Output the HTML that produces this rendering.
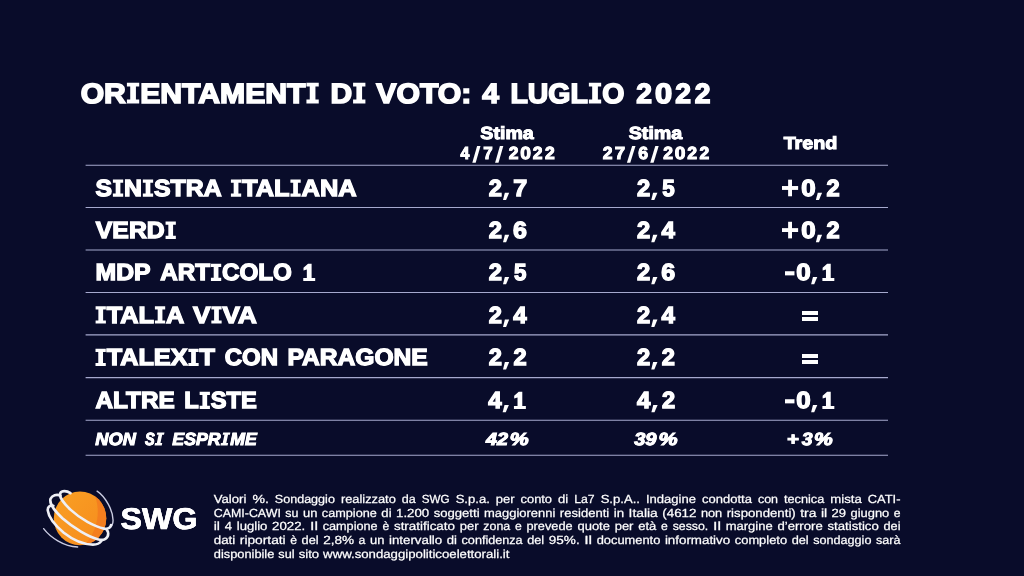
<!DOCTYPE html>
<html lang="it"><head><meta charset="utf-8"><title>Orientamenti di voto</title>
<style>
html,body{margin:0;padding:0;}
body{width:1024px;height:576px;overflow:hidden;background:#090c2a;position:relative;font-family:"Liberation Sans",sans-serif;color:#fff;text-rendering:geometricPrecision;}
.t{position:absolute;left:0;top:0;white-space:pre;transform-origin:0 0;font-weight:700;line-height:1;}
.i{font-style:italic;}
.g{margin:0;padding:0;font-size:1px;line-height:1px;font-weight:400;}
.h{font-size:0;}
.ln{position:absolute;left:85.5px;width:802.5px;height:1.5px;background:#a6a9ce;}
.f{position:absolute;left:0;top:0;white-space:pre;transform-origin:0 0;font-weight:400;line-height:1;font-size:11.8px;color:#fff;-webkit-text-stroke:0.25px #fff;}
</style></head><body>
<svg style="position:absolute;left:0;top:0" width="1024" height="576" viewBox="0 0 1024 576"><g stroke="#a6a9ce" stroke-width="1.1">
<line x1="85.6" x2="888" y1="165.30" y2="165.30"/>
<line x1="85.6" x2="888" y1="207.50" y2="207.50"/>
<line x1="85.6" x2="888" y1="250.00" y2="250.00"/>
<line x1="85.6" x2="888" y1="292.50" y2="292.50"/>
<line x1="85.6" x2="888" y1="334.90" y2="334.90"/>
<line x1="85.6" x2="888" y1="377.60" y2="377.60"/>
<line x1="85.6" x2="888" y1="420.20" y2="420.20"/>
<line x1="85.6" x2="888" y1="455.30" y2="455.30"/>
</g><g fill="#fff">
<polygon points="472.30,162.70 475.70,162.70 480.50,146.00 477.10,146.00"/>
<polygon points="495.10,162.70 498.50,162.70 503.30,146.00 499.90,146.00"/>
<polygon points="626.90,162.70 630.30,162.70 635.50,146.00 632.10,146.00"/>
<polygon points="650.20,162.70 653.60,162.70 658.70,146.00 655.30,146.00"/>
</g></svg>
<div id="txt" style="position:absolute;left:0;top:0;width:1024px;height:576px;will-change:transform">
<h1 class="g"><span class="t" style="font-size:27.83px;-webkit-text-stroke:1.55px #fff;text-shadow:0.17px 0 #fff,-0.17px 0 #fff;transform:translate(80.68px,79.99px) scaleX(1.0826)">OR</span><b class="h">I</b><span class="t" style="font-size:27.83px;-webkit-text-stroke:1.55px #fff;text-shadow:0.17px 0 #fff,-0.17px 0 #fff;transform:translate(140.26px,79.99px) scaleX(1.0826)">ENTAMENT</span><b class="h">I</b> <span class="t" style="font-size:27.83px;-webkit-text-stroke:1.55px #fff;text-shadow:0.17px 0 #fff,-0.17px 0 #fff;transform:translate(330.39px,79.99px) scaleX(1.0774)">D</span><b class="h">I</b> <span class="t" style="font-size:27.83px;-webkit-text-stroke:1.55px #fff;text-shadow:0.17px 0 #fff,-0.17px 0 #fff;transform:translate(376.23px,79.99px) scaleX(1.0860)">VOTO:</span> <span class="t" style="font-size:27.83px;-webkit-text-stroke:1.55px #fff;text-shadow:0.17px 0 #fff,-0.17px 0 #fff;transform:translate(482.32px,79.99px) scaleX(1.0773)">4</span> <span class="t" style="font-size:27.83px;-webkit-text-stroke:1.55px #fff;text-shadow:0.17px 0 #fff,-0.17px 0 #fff;transform:translate(510.49px,79.99px) scaleX(1.0211)">LUGL</span><b class="h">I</b><span class="t" style="font-size:27.83px;-webkit-text-stroke:1.55px #fff;text-shadow:0.17px 0 #fff,-0.17px 0 #fff;transform:translate(602.22px,79.99px) scaleX(1.0211)">O</span> <span class="t" style="font-size:27.83px;-webkit-text-stroke:1.55px #fff;text-shadow:0.17px 0 #fff,-0.17px 0 #fff;transform:translate(636.33px,79.99px) scaleX(1.0133)">2</span><span class="t" style="font-size:27.83px;-webkit-text-stroke:1.55px #fff;text-shadow:0.17px 0 #fff,-0.17px 0 #fff;transform:translate(655.12px,79.99px) scaleX(1.1072)">0</span><span class="t" style="font-size:27.83px;-webkit-text-stroke:1.55px #fff;text-shadow:0.17px 0 #fff,-0.17px 0 #fff;transform:translate(675.29px,79.99px) scaleX(1.0133)">2</span><span class="t" style="font-size:27.83px;-webkit-text-stroke:1.55px #fff;text-shadow:0.17px 0 #fff,-0.17px 0 #fff;transform:translate(694.77px,79.99px) scaleX(1.0133)">2</span></h1>
<div class="g"><span class="t" style="font-size:17.49px;-webkit-text-stroke:0.97px #fff;text-shadow:0.1px 0 #fff,-0.1px 0 #fff;transform:translate(480.35px,125.04px) scaleX(1.1206)">Stima</span> <span class="t" style="font-size:17.49px;-webkit-text-stroke:0.97px #fff;text-shadow:0.1px 0 #fff,-0.1px 0 #fff;transform:translate(460.53px,145.04px) scaleX(0.9084)">4</span><b class="h">/</b><span class="t" style="font-size:17.49px;-webkit-text-stroke:0.97px #fff;text-shadow:0.1px 0 #fff,-0.1px 0 #fff;transform:translate(483.24px,145.04px) scaleX(0.9749)">7</span><b class="h">/</b><span class="t" style="font-size:17.49px;-webkit-text-stroke:0.97px #fff;text-shadow:0.1px 0 #fff,-0.1px 0 #fff;transform:translate(508.64px,145.04px) scaleX(1.0021)">2</span><span class="t" style="font-size:17.49px;-webkit-text-stroke:0.97px #fff;text-shadow:0.1px 0 #fff,-0.1px 0 #fff;transform:translate(520.30px,145.04px) scaleX(1.0951)">0</span><span class="t" style="font-size:17.49px;-webkit-text-stroke:0.97px #fff;text-shadow:0.1px 0 #fff,-0.1px 0 #fff;transform:translate(532.81px,145.04px) scaleX(1.0021)">2</span><span class="t" style="font-size:17.49px;-webkit-text-stroke:0.97px #fff;text-shadow:0.1px 0 #fff,-0.1px 0 #fff;transform:translate(544.90px,145.04px) scaleX(1.0021)">2</span></div>
<div class="g"><span class="t" style="font-size:17.49px;-webkit-text-stroke:0.97px #fff;text-shadow:0.1px 0 #fff,-0.1px 0 #fff;transform:translate(628.75px,125.04px) scaleX(1.1226)">Stima</span> <span class="t" style="font-size:17.49px;-webkit-text-stroke:0.97px #fff;text-shadow:0.1px 0 #fff,-0.1px 0 #fff;transform:translate(602.84px,145.04px) scaleX(1.0021)">2</span><span class="t" style="font-size:17.49px;-webkit-text-stroke:0.97px #fff;text-shadow:0.1px 0 #fff,-0.1px 0 #fff;transform:translate(614.71px,145.04px) scaleX(1.0641)">7</span><b class="h">/</b><span class="t" style="font-size:17.49px;-webkit-text-stroke:0.97px #fff;text-shadow:0.1px 0 #fff,-0.1px 0 #fff;transform:translate(638.24px,145.04px) scaleX(1.0086)">6</span><b class="h">/</b><span class="t" style="font-size:17.49px;-webkit-text-stroke:0.97px #fff;text-shadow:0.1px 0 #fff,-0.1px 0 #fff;transform:translate(663.14px,145.04px) scaleX(1.0021)">2</span><span class="t" style="font-size:17.49px;-webkit-text-stroke:0.97px #fff;text-shadow:0.1px 0 #fff,-0.1px 0 #fff;transform:translate(674.80px,145.04px) scaleX(1.0951)">0</span><span class="t" style="font-size:17.49px;-webkit-text-stroke:0.97px #fff;text-shadow:0.1px 0 #fff,-0.1px 0 #fff;transform:translate(687.31px,145.04px) scaleX(1.0021)">2</span><span class="t" style="font-size:17.49px;-webkit-text-stroke:0.97px #fff;text-shadow:0.1px 0 #fff,-0.1px 0 #fff;transform:translate(699.40px,145.04px) scaleX(1.0021)">2</span></div>
<div class="g"><span class="t" style="font-size:17.49px;-webkit-text-stroke:0.97px #fff;text-shadow:0.1px 0 #fff,-0.1px 0 #fff;transform:translate(783.66px,135.04px) scaleX(1.1275)">Trend</span></div>
<div class="g"><span class="t" style="font-size:23.26px;-webkit-text-stroke:1.3px #fff;text-shadow:0.14px 0 #fff,-0.14px 0 #fff;transform:translate(95.46px,176.96px) scaleX(1.0679)">S</span><b class="h">I</b><span class="t" style="font-size:23.26px;-webkit-text-stroke:1.3px #fff;text-shadow:0.14px 0 #fff,-0.14px 0 #fff;transform:translate(124.05px,176.96px) scaleX(1.0679)">N</span><b class="h">I</b><span class="t" style="font-size:23.26px;-webkit-text-stroke:1.3px #fff;text-shadow:0.14px 0 #fff,-0.14px 0 #fff;transform:translate(154.01px,176.96px) scaleX(1.0679)">STRA</span> <b class="h">I</b><span class="t" style="font-size:23.26px;-webkit-text-stroke:1.3px #fff;text-shadow:0.14px 0 #fff,-0.14px 0 #fff;transform:translate(242.06px,176.96px) scaleX(1.0922)">TAL</span><b class="h">I</b><span class="t" style="font-size:23.26px;-webkit-text-stroke:1.3px #fff;text-shadow:0.14px 0 #fff,-0.14px 0 #fff;transform:translate(301.58px,176.96px) scaleX(1.0922)">ANA</span> <span class="t" style="font-size:23.26px;-webkit-text-stroke:1.3px #fff;text-shadow:0.14px 0 #fff,-0.14px 0 #fff;transform:translate(488.81px,176.96px) scaleX(1.0176)">2</span><b class="h">,</b><span class="t" style="font-size:23.26px;-webkit-text-stroke:1.3px #fff;text-shadow:0.14px 0 #fff,-0.14px 0 #fff;transform:translate(513.19px,176.96px) scaleX(1.0805)">7</span> <span class="t" style="font-size:23.26px;-webkit-text-stroke:1.3px #fff;text-shadow:0.14px 0 #fff,-0.14px 0 #fff;transform:translate(637.06px,176.96px) scaleX(1.0176)">2</span><b class="h">,</b><span class="t" style="font-size:23.26px;-webkit-text-stroke:1.3px #fff;text-shadow:0.14px 0 #fff,-0.14px 0 #fff;transform:translate(662.31px,176.96px) scaleX(0.9598)">5</span> <b class="h">+</b><span class="t" style="font-size:23.26px;-webkit-text-stroke:1.3px #fff;text-shadow:0.14px 0 #fff,-0.14px 0 #fff;transform:translate(801.14px,176.96px) scaleX(1.1120)">0</span><b class="h">,</b><span class="t" style="font-size:23.26px;-webkit-text-stroke:1.3px #fff;text-shadow:0.14px 0 #fff,-0.14px 0 #fff;transform:translate(826.38px,176.96px) scaleX(1.0176)">2</span></div>
<div class="g"><span class="t" style="font-size:23.26px;-webkit-text-stroke:1.3px #fff;text-shadow:0.14px 0 #fff,-0.14px 0 #fff;transform:translate(95.84px,218.96px) scaleX(1.0654)">VERD</span><b class="h">I</b> <span class="t" style="font-size:23.26px;-webkit-text-stroke:1.3px #fff;text-shadow:0.14px 0 #fff,-0.14px 0 #fff;transform:translate(488.81px,218.96px) scaleX(1.0176)">2</span><b class="h">,</b><span class="t" style="font-size:23.26px;-webkit-text-stroke:1.3px #fff;text-shadow:0.14px 0 #fff,-0.14px 0 #fff;transform:translate(513.04px,218.96px) scaleX(1.0720)">6</span> <span class="t" style="font-size:23.26px;-webkit-text-stroke:1.3px #fff;text-shadow:0.14px 0 #fff,-0.14px 0 #fff;transform:translate(637.06px,218.96px) scaleX(1.0176)">2</span><b class="h">,</b><span class="t" style="font-size:23.26px;-webkit-text-stroke:1.3px #fff;text-shadow:0.14px 0 #fff,-0.14px 0 #fff;transform:translate(661.56px,218.96px) scaleX(1.0332)">4</span> <b class="h">+</b><span class="t" style="font-size:23.26px;-webkit-text-stroke:1.3px #fff;text-shadow:0.14px 0 #fff,-0.14px 0 #fff;transform:translate(801.14px,218.96px) scaleX(1.1120)">0</span><b class="h">,</b><span class="t" style="font-size:23.26px;-webkit-text-stroke:1.3px #fff;text-shadow:0.14px 0 #fff,-0.14px 0 #fff;transform:translate(826.38px,218.96px) scaleX(1.0176)">2</span></div>
<div class="g"><span class="t" style="font-size:23.26px;-webkit-text-stroke:1.3px #fff;text-shadow:0.14px 0 #fff,-0.14px 0 #fff;transform:translate(95.54px,260.96px) scaleX(1.0644)">MDP</span> <span class="t" style="font-size:23.26px;-webkit-text-stroke:1.3px #fff;text-shadow:0.14px 0 #fff,-0.14px 0 #fff;transform:translate(160.34px,260.96px) scaleX(1.0399)">ART</span><b class="h">I</b><span class="t" style="font-size:23.26px;-webkit-text-stroke:1.3px #fff;text-shadow:0.14px 0 #fff,-0.14px 0 #fff;transform:translate(222.08px,260.96px) scaleX(1.0399)">COLO</span> <b class="h">1</b> <span class="t" style="font-size:23.26px;-webkit-text-stroke:1.3px #fff;text-shadow:0.14px 0 #fff,-0.14px 0 #fff;transform:translate(488.81px,260.96px) scaleX(1.0176)">2</span><b class="h">,</b><span class="t" style="font-size:23.26px;-webkit-text-stroke:1.3px #fff;text-shadow:0.14px 0 #fff,-0.14px 0 #fff;transform:translate(514.06px,260.96px) scaleX(0.9598)">5</span> <span class="t" style="font-size:23.26px;-webkit-text-stroke:1.3px #fff;text-shadow:0.14px 0 #fff,-0.14px 0 #fff;transform:translate(637.06px,260.96px) scaleX(1.0176)">2</span><b class="h">,</b><span class="t" style="font-size:23.26px;-webkit-text-stroke:1.3px #fff;text-shadow:0.14px 0 #fff,-0.14px 0 #fff;transform:translate(661.29px,260.96px) scaleX(1.0720)">6</span> <b class="h">-</b><span class="t" style="font-size:23.26px;-webkit-text-stroke:1.3px #fff;text-shadow:0.14px 0 #fff,-0.14px 0 #fff;transform:translate(796.36px,260.96px) scaleX(1.1120)">0</span><b class="h">,</b><b class="h">1</b></div>
<div class="g"><b class="h">I</b><span class="t" style="font-size:23.26px;-webkit-text-stroke:1.3px #fff;text-shadow:0.14px 0 #fff,-0.14px 0 #fff;transform:translate(106.76px,303.96px) scaleX(1.0872)">TAL</span><b class="h">I</b><span class="t" style="font-size:23.26px;-webkit-text-stroke:1.3px #fff;text-shadow:0.14px 0 #fff,-0.14px 0 #fff;transform:translate(166.06px,303.96px) scaleX(1.0872)">A</span> <span class="t" style="font-size:23.26px;-webkit-text-stroke:1.3px #fff;text-shadow:0.14px 0 #fff,-0.14px 0 #fff;transform:translate(193.09px,303.96px) scaleX(1.1215)">V</span><b class="h">I</b><span class="t" style="font-size:23.26px;-webkit-text-stroke:1.3px #fff;text-shadow:0.14px 0 #fff,-0.14px 0 #fff;transform:translate(222.51px,303.96px) scaleX(1.1215)">VA</span> <span class="t" style="font-size:23.26px;-webkit-text-stroke:1.3px #fff;text-shadow:0.14px 0 #fff,-0.14px 0 #fff;transform:translate(488.81px,303.96px) scaleX(1.0176)">2</span><b class="h">,</b><span class="t" style="font-size:23.26px;-webkit-text-stroke:1.3px #fff;text-shadow:0.14px 0 #fff,-0.14px 0 #fff;transform:translate(513.31px,303.96px) scaleX(1.0332)">4</span> <span class="t" style="font-size:23.26px;-webkit-text-stroke:1.3px #fff;text-shadow:0.14px 0 #fff,-0.14px 0 #fff;transform:translate(637.06px,303.96px) scaleX(1.0176)">2</span><b class="h">,</b><span class="t" style="font-size:23.26px;-webkit-text-stroke:1.3px #fff;text-shadow:0.14px 0 #fff,-0.14px 0 #fff;transform:translate(661.56px,303.96px) scaleX(1.0332)">4</span> <b class="h">=</b></div>
<div class="g"><b class="h">I</b><span class="t" style="font-size:23.26px;-webkit-text-stroke:1.3px #fff;text-shadow:0.14px 0 #fff,-0.14px 0 #fff;transform:translate(106.66px,345.96px) scaleX(1.0848)">TALEX</span><b class="h">I</b><span class="t" style="font-size:23.26px;-webkit-text-stroke:1.3px #fff;text-shadow:0.14px 0 #fff,-0.14px 0 #fff;transform:translate(199.52px,345.96px) scaleX(1.0848)">T</span> <span class="t" style="font-size:23.26px;-webkit-text-stroke:1.3px #fff;text-shadow:0.14px 0 #fff,-0.14px 0 #fff;transform:translate(224.67px,345.96px) scaleX(1.0312)">CON</span> <span class="t" style="font-size:23.26px;-webkit-text-stroke:1.3px #fff;text-shadow:0.14px 0 #fff,-0.14px 0 #fff;transform:translate(287.55px,345.96px) scaleX(1.0572)">PARAGONE</span> <span class="t" style="font-size:23.26px;-webkit-text-stroke:1.3px #fff;text-shadow:0.14px 0 #fff,-0.14px 0 #fff;transform:translate(488.81px,345.96px) scaleX(1.0176)">2</span><b class="h">,</b><span class="t" style="font-size:23.26px;-webkit-text-stroke:1.3px #fff;text-shadow:0.14px 0 #fff,-0.14px 0 #fff;transform:translate(513.48px,345.96px) scaleX(1.0176)">2</span> <span class="t" style="font-size:23.26px;-webkit-text-stroke:1.3px #fff;text-shadow:0.14px 0 #fff,-0.14px 0 #fff;transform:translate(637.06px,345.96px) scaleX(1.0176)">2</span><b class="h">,</b><span class="t" style="font-size:23.26px;-webkit-text-stroke:1.3px #fff;text-shadow:0.14px 0 #fff,-0.14px 0 #fff;transform:translate(661.73px,345.96px) scaleX(1.0176)">2</span> <b class="h">=</b></div>
<div class="g"><span class="t" style="font-size:23.26px;-webkit-text-stroke:1.3px #fff;text-shadow:0.14px 0 #fff,-0.14px 0 #fff;transform:translate(95.45px,388.96px) scaleX(1.0471)">ALTRE</span> <span class="t" style="font-size:23.26px;-webkit-text-stroke:1.3px #fff;text-shadow:0.14px 0 #fff,-0.14px 0 #fff;transform:translate(184.32px,388.96px) scaleX(1.0173)">L</span><b class="h">I</b><span class="t" style="font-size:23.26px;-webkit-text-stroke:1.3px #fff;text-shadow:0.14px 0 #fff,-0.14px 0 #fff;transform:translate(210.80px,388.96px) scaleX(1.0173)">STE</span> <span class="t" style="font-size:23.26px;-webkit-text-stroke:1.3px #fff;text-shadow:0.14px 0 #fff,-0.14px 0 #fff;transform:translate(488.32px,388.96px) scaleX(1.0332)">4</span><b class="h">,</b><b class="h">1</b> <span class="t" style="font-size:23.26px;-webkit-text-stroke:1.3px #fff;text-shadow:0.14px 0 #fff,-0.14px 0 #fff;transform:translate(637.07px,388.96px) scaleX(1.0332)">4</span><b class="h">,</b><span class="t" style="font-size:23.26px;-webkit-text-stroke:1.3px #fff;text-shadow:0.14px 0 #fff,-0.14px 0 #fff;transform:translate(661.90px,388.96px) scaleX(1.0176)">2</span> <b class="h">-</b><span class="t" style="font-size:23.26px;-webkit-text-stroke:1.3px #fff;text-shadow:0.14px 0 #fff,-0.14px 0 #fff;transform:translate(796.36px,388.96px) scaleX(1.1120)">0</span><b class="h">,</b><b class="h">1</b></div>
<div class="g"><span class="t i" style="font-size:17.62px;-webkit-text-stroke:0.98px #fff;text-shadow:0.1px 0 #fff,-0.1px 0 #fff;transform:translate(95.33px,431.03px) scaleX(1.0358)">NON</span> <span class="t i" style="font-size:17.62px;-webkit-text-stroke:0.98px #fff;text-shadow:0.1px 0 #fff,-0.1px 0 #fff;transform:translate(144.99px,431.03px) scaleX(0.8283)">S</span><b class="h">I</b> <span class="t i" style="font-size:17.62px;-webkit-text-stroke:0.98px #fff;text-shadow:0.1px 0 #fff,-0.1px 0 #fff;transform:translate(172.32px,431.03px) scaleX(1.0064)">ESPR</span><b class="h">I</b><span class="t i" style="font-size:17.62px;-webkit-text-stroke:0.98px #fff;text-shadow:0.1px 0 #fff,-0.1px 0 #fff;transform:translate(230.17px,431.03px) scaleX(1.0064)">ME</span> <span class="t i" style="font-size:17.62px;-webkit-text-stroke:0.98px #fff;text-shadow:0.1px 0 #fff,-0.1px 0 #fff;transform:translate(486.03px,431.03px) scaleX(1.1221)">42</span><span class="t i" style="font-size:17.62px;-webkit-text-stroke:0.98px #fff;text-shadow:0.1px 0 #fff,-0.1px 0 #fff;transform:translate(509.71px,431.03px) scaleX(1.2110)">%</span> <span class="t i" style="font-size:17.62px;-webkit-text-stroke:0.98px #fff;text-shadow:0.1px 0 #fff,-0.1px 0 #fff;transform:translate(634.17px,431.03px) scaleX(1.1393)">39</span><span class="t i" style="font-size:17.62px;-webkit-text-stroke:0.98px #fff;text-shadow:0.1px 0 #fff,-0.1px 0 #fff;transform:translate(658.51px,431.03px) scaleX(1.2174)">%</span> <span class="t i" style="font-size:17.62px;-webkit-text-stroke:0.98px #fff;text-shadow:0.1px 0 #fff,-0.1px 0 #fff;transform:translate(786.83px,431.03px) scaleX(1.1495)">+</span><span class="t i" style="font-size:17.62px;-webkit-text-stroke:0.98px #fff;text-shadow:0.1px 0 #fff,-0.1px 0 #fff;transform:translate(801.75px,431.03px) scaleX(1.1002)">3</span><span class="t i" style="font-size:17.62px;-webkit-text-stroke:0.98px #fff;text-shadow:0.1px 0 #fff,-0.1px 0 #fff;transform:translate(813.97px,431.03px) scaleX(1.1952)">%</span></div>
<div class="g"><span class="t" style="font-size:30.23px;-webkit-text-stroke:0.5px #fff;text-shadow:0.17px 0 #fff,-0.17px 0 #fff;transform:translate(120.54px,504.85px) scaleX(1.0651)">SWG</span></div>

<svg style="position:absolute;left:0;top:0" width="1024" height="576" viewBox="0 0 1024 576"><g fill="#fff">
<path d="M126.91 82.70h12.32v3.83h-3.31v13.04h3.31v3.83h-12.32v-3.83h3.31v-13.04h-3.31z"/>
<path d="M306.43 82.70h12.32v3.83h-3.31v13.04h3.31v3.83h-12.32v-3.83h3.31v-13.04h-3.31z"/>
<path d="M353.08 82.70h12.32v3.83h-3.31v13.04h3.31v3.83h-12.32v-3.83h3.31v-13.04h-3.31z"/>
<path d="M588.87 82.70h12.32v3.83h-3.31v13.04h3.31v3.83h-12.32v-3.83h3.31v-13.04h-3.31z"/>
<path d="M112.89 179.50h10.29v3.20h-2.77v10.90h2.77v3.20h-10.29v-3.20h2.77v-10.90h-2.77z"/>
<path d="M142.85 179.50h10.29v3.20h-2.77v10.90h2.77v3.20h-10.29v-3.20h2.77v-10.90h-2.77z"/>
<path d="M230.90 179.50h10.29v3.20h-2.77v10.90h2.77v3.20h-10.29v-3.20h2.77v-10.90h-2.77z"/>
<path d="M290.42 179.50h10.29v3.20h-2.77v10.90h2.77v3.20h-10.29v-3.20h2.77v-10.90h-2.77z"/>
<path d="M165.56 221.60h10.29v3.20h-2.77v10.90h2.77v3.20h-10.29v-3.20h2.77v-10.90h-2.77z"/>
<path d="M210.92 263.70h10.29v3.20h-2.77v10.90h2.77v3.20h-10.29v-3.20h2.77v-10.90h-2.77z"/>
<path d="M95.60 306.30h10.29v3.20h-2.77v10.90h2.77v3.20h-10.29v-3.20h2.77v-10.90h-2.77z"/>
<path d="M154.90 306.30h10.29v3.20h-2.77v10.90h2.77v3.20h-10.29v-3.20h2.77v-10.90h-2.77z"/>
<path d="M211.35 306.30h10.29v3.20h-2.77v10.90h2.77v3.20h-10.29v-3.20h2.77v-10.90h-2.77z"/>
<path d="M95.50 348.80h10.29v3.20h-2.77v10.90h2.77v3.20h-10.29v-3.20h2.77v-10.90h-2.77z"/>
<path d="M188.36 348.80h10.29v3.20h-2.77v10.90h2.77v3.20h-10.29v-3.20h2.77v-10.90h-2.77z"/>
<path d="M199.64 391.70h10.29v3.20h-2.77v10.90h2.77v3.20h-10.29v-3.20h2.77v-10.90h-2.77z"/>
<path transform="translate(155.90,438.95) skewX(-12.0) translate(-155.90,-438.95)" d="M155.90 432.40h7.21v2.42h-1.80v8.25h1.80v2.42h-7.21v-2.42h1.80v-8.25h-1.80z"/>
<path transform="translate(221.78,438.95) skewX(-12.0) translate(-221.78,-438.95)" d="M221.78 432.40h7.21v2.42h-1.80v8.25h1.80v2.42h-7.21v-2.42h1.80v-8.25h-1.80z"/>
<path d="M504.85 192.73L509.18 192.73L506.09 200.09L502.98 200.09Z"/>
<path d="M653.10 192.73L657.43 192.73L654.34 200.09L651.23 200.09Z"/>
<path d="M782.00 186.03h16.13v3.89h-16.13z"/>
<path d="M788.12 179.67h3.89v16.61h-3.89z"/>
<path d="M817.76 192.73L822.08 192.73L819.00 200.09L815.88 200.09Z"/>
<path d="M504.85 234.83L509.18 234.83L506.09 242.19L502.98 242.19Z"/>
<path d="M653.10 234.83L657.43 234.83L654.34 242.19L651.23 242.19Z"/>
<path d="M782.00 228.13h16.13v3.89h-16.13z"/>
<path d="M788.12 221.77h3.89v16.61h-3.89z"/>
<path d="M817.76 234.83L822.08 234.83L819.00 242.19L815.88 242.19Z"/>
<path d="M303.25 281.00 L315.19 281.00 L315.19 277.97 L311.61 277.97 L311.61 263.70 L308.02 263.70 L303.49 267.85 L303.49 270.62 L306.83 269.58 L306.83 277.97 L303.25 277.97Z"/>
<path d="M504.85 276.93L509.18 276.93L506.09 284.29L502.98 284.29Z"/>
<path d="M653.10 276.93L657.43 276.93L654.34 284.29L651.23 284.29Z"/>
<path d="M785.00 271.23h9.47v4.15h-9.47z"/>
<path d="M812.97 276.93L817.30 276.93L814.21 284.29L811.10 284.29Z"/>
<path d="M822.39 281.00 L834.32 281.00 L834.32 277.97 L830.74 277.97 L830.74 263.70 L827.16 263.70 L822.62 267.85 L822.62 270.62 L825.97 269.58 L825.97 277.97 L822.39 277.97Z"/>
<path d="M504.85 319.53L509.18 319.53L506.09 326.89L502.98 326.89Z"/>
<path d="M653.10 319.53L657.43 319.53L654.34 326.89L651.23 326.89Z"/>
<path d="M504.85 362.03L509.18 362.03L506.09 369.39L502.98 369.39Z"/>
<path d="M653.10 362.03L657.43 362.03L654.34 369.39L651.23 369.39Z"/>
<path d="M504.52 404.93L508.85 404.93L505.76 412.29L502.65 412.29Z"/>
<path d="M513.94 409.00 L525.87 409.00 L525.87 405.97 L522.29 405.97 L522.29 391.70 L518.71 391.70 L514.18 395.85 L514.18 398.62 L517.52 397.58 L517.52 405.97 L513.94 405.97Z"/>
<path d="M653.27 404.93L657.60 404.93L654.51 412.29L651.40 412.29Z"/>
<path d="M785.00 399.23h9.47v4.15h-9.47z"/>
<path d="M812.97 404.93L817.30 404.93L814.21 412.29L811.10 412.29Z"/>
<path d="M822.39 409.00 L834.32 409.00 L834.32 405.97 L830.74 405.97 L830.74 391.70 L827.16 391.70 L822.62 395.85 L822.62 398.62 L825.97 397.58 L825.97 405.97 L822.39 405.97Z"/>
</g></svg>
<p class="g"><span class="f" style="transform:translate(213.75px,493.96px) scaleX(1.1147)">Valori</span> <span class="f" style="transform:translate(252.40px,493.96px) scaleX(1.1910)">%.</span> <span class="f" style="transform:translate(274.80px,493.96px) scaleX(1.0646)">Sondaggio</span> <span class="f" style="transform:translate(340.88px,493.96px) scaleX(1.0879)">realizzato</span> <span class="f" style="transform:translate(401.82px,493.96px) scaleX(1.0621)">da</span> <span class="f" style="transform:translate(421.75px,493.96px) scaleX(0.9891)">SWG</span> <span class="f" style="transform:translate(455.63px,493.96px) scaleX(1.1082)">S.p.a.</span> <span class="f" style="transform:translate(495.80px,493.96px) scaleX(1.0992)">per</span> <span class="f" style="transform:translate(520.55px,493.96px) scaleX(1.0897)">conto</span> <span class="f" style="transform:translate(558.00px,493.96px) scaleX(1.1123)">di</span> <span class="f" style="transform:translate(574.22px,493.96px) scaleX(1.0378)">La7</span> <span class="f" style="transform:translate(600.65px,493.96px) scaleX(1.1084)">S.p.A..</span> <span class="f" style="transform:translate(645.90px,493.96px) scaleX(1.1078)">Indagine</span> <span class="f" style="transform:translate(702.06px,493.96px) scaleX(1.1019)">condotta</span> <span class="f" style="transform:translate(757.94px,493.96px) scaleX(1.0542)">con</span> <span class="f" style="transform:translate(784.00px,493.96px) scaleX(1.0783)">tecnica</span> <span class="f" style="transform:translate(830.31px,493.96px) scaleX(1.1162)">mista</span> <span class="f" style="transform:translate(867.78px,493.96px) scaleX(1.0932)">CATI-</span></p>
<p class="g"><span class="f" style="transform:translate(213.75px,507.96px) scaleX(1.0518)">CAMI-CAWI</span> <span class="f" style="transform:translate(285.34px,507.96px) scaleX(1.0546)">su</span> <span class="f" style="transform:translate(302.97px,507.96px) scaleX(1.0985)">un</span> <span class="f" style="transform:translate(321.87px,507.96px) scaleX(1.0747)">campione</span> <span class="f" style="transform:translate(381.34px,507.96px) scaleX(1.1123)">di</span> <span class="f" style="transform:translate(396.04px,507.96px) scaleX(1.1216)">1.200</span> <span class="f" style="transform:translate(433.64px,507.96px) scaleX(1.1111)">soggetti</span> <span class="f" style="transform:translate(484.05px,507.96px) scaleX(1.0986)">maggiorenni</span> <span class="f" style="transform:translate(559.87px,507.96px) scaleX(1.1077)">residenti</span> <span class="f" style="transform:translate(613.76px,507.96px) scaleX(1.1247)">in</span> <span class="f" style="transform:translate(628.58px,507.96px) scaleX(1.1720)">Italia</span> <span class="f" style="transform:translate(662.27px,507.96px) scaleX(1.1314)">(4612</span> <span class="f" style="transform:translate(700.90px,507.96px) scaleX(1.0835)">non</span> <span class="f" style="transform:translate(726.72px,507.96px) scaleX(1.1192)">rispondenti)</span> <span class="f" style="transform:translate(800.21px,507.96px) scaleX(1.1761)">tra</span> <span class="f" style="transform:translate(820.89px,507.96px) scaleX(1.1903)">il</span> <span class="f" style="transform:translate(831.61px,507.96px) scaleX(1.1037)">29</span> <span class="f" style="transform:translate(850.58px,507.96px) scaleX(1.0905)">giugno</span> <span class="f" style="transform:translate(893.71px,507.96px) scaleX(1.0343)">e</span></p>
<p class="g"><span class="f" style="transform:translate(213.75px,520.96px) scaleX(1.1903)">il</span> <span class="f" style="transform:translate(224.75px,520.96px) scaleX(1.1037)">4</span> <span class="f" style="transform:translate(236.76px,520.96px) scaleX(1.1099)">luglio</span> <span class="f" style="transform:translate(272.10px,520.96px) scaleX(1.1216)">2022.</span> <span class="f" style="transform:translate(309.98px,520.96px) scaleX(1.3416)">Il</span> <span class="f" style="transform:translate(322.65px,520.96px) scaleX(1.0747)">campione</span> <span class="f" style="transform:translate(382.40px,520.96px) scaleX(1.0343)">è</span> <span class="f" style="transform:translate(393.95px,520.96px) scaleX(1.1352)">stratificato</span> <span class="f" style="transform:translate(459.75px,520.96px) scaleX(1.0992)">per</span> <span class="f" style="transform:translate(483.26px,520.96px) scaleX(1.0531)">zona</span> <span class="f" style="transform:translate(514.97px,520.96px) scaleX(1.0343)">e</span> <span class="f" style="transform:translate(526.52px,520.96px) scaleX(1.0825)">prevede</span> <span class="f" style="transform:translate(577.44px,520.96px) scaleX(1.1004)">quote</span> <span class="f" style="transform:translate(614.69px,520.96px) scaleX(1.0992)">per</span> <span class="f" style="transform:translate(638.20px,520.96px) scaleX(1.1046)">età</span> <span class="f" style="transform:translate(661.08px,520.96px) scaleX(1.0343)">e</span> <span class="f" style="transform:translate(672.63px,520.96px) scaleX(1.0453)">sesso.</span> <span class="f" style="transform:translate(713.04px,520.96px) scaleX(1.3416)">Il</span> <span class="f" style="transform:translate(725.71px,520.96px) scaleX(1.1025)">margine</span> <span class="f" style="transform:translate(777.48px,520.96px) scaleX(1.1126)">d’errore</span> <span class="f" style="transform:translate(827.47px,520.96px) scaleX(1.1167)">statistico</span> <span class="f" style="transform:translate(883.50px,520.96px) scaleX(1.0798)">dei</span></p>
<p class="g"><span class="f" style="transform:translate(213.75px,534.96px) scaleX(1.1326)">dati</span> <span class="f" style="transform:translate(239.86px,534.96px) scaleX(1.1639)">riportati</span> <span class="f" style="transform:translate(290.22px,534.96px) scaleX(1.0343)">è</span> <span class="f" style="transform:translate(301.57px,534.96px) scaleX(1.0798)">del</span> <span class="f" style="transform:translate(323.14px,534.96px) scaleX(1.1484)">2,8%</span> <span class="f" style="transform:translate(358.59px,534.96px) scaleX(1.0430)">a</span> <span class="f" style="transform:translate(370.00px,534.96px) scaleX(1.0985)">un</span> <span class="f" style="transform:translate(388.98px,534.96px) scaleX(1.1268)">intervallo</span> <span class="f" style="transform:translate(446.76px,534.96px) scaleX(1.1123)">di</span> <span class="f" style="transform:translate(461.54px,534.96px) scaleX(1.0705)">confidenza</span> <span class="f" style="transform:translate(527.20px,534.96px) scaleX(1.0798)">del</span> <span class="f" style="transform:translate(548.77px,534.96px) scaleX(1.1484)">95%.</span> <span class="f" style="transform:translate(584.22px,534.96px) scaleX(1.3416)">Il</span> <span class="f" style="transform:translate(596.70px,534.96px) scaleX(1.0899)">documento</span> <span class="f" style="transform:translate(664.90px,534.96px) scaleX(1.1316)">informativo</span> <span class="f" style="transform:translate(734.76px,534.96px) scaleX(1.0930)">completo</span> <span class="f" style="transform:translate(791.66px,534.96px) scaleX(1.0798)">del</span> <span class="f" style="transform:translate(813.23px,534.96px) scaleX(1.0691)">sondaggio</span> <span class="f" style="transform:translate(876.01px,534.96px) scaleX(1.0667)">sarà</span></p>
<p class="g"><span class="f" style="transform:translate(213.75px,548.96px) scaleX(1.0870)">disponibile</span> <span class="f" style="transform:translate(278.37px,548.96px) scaleX(1.0782)">sul</span> <span class="f" style="transform:translate(298.64px,548.96px) scaleX(1.1139)">sito</span> <span class="f" style="transform:translate(323.11px,548.96px) scaleX(1.1188)">www.sondaggipoliticoelettorali.it</span></p>
</div>
<div style="position:absolute;left:802.2px;width:15.6px;top:311.25px;height:3.9px;background:#fff"></div>
<div style="position:absolute;left:802.2px;width:15.6px;top:317.30px;height:3.9px;background:#fff"></div>
<div style="position:absolute;left:802.2px;width:15.6px;top:353.75px;height:3.9px;background:#fff"></div>
<div style="position:absolute;left:802.2px;width:15.6px;top:359.80px;height:3.9px;background:#fff"></div>
<svg style="position:absolute;left:0;top:0" width="1024" height="576" viewBox="0 0 1024 576">
<defs>
<clipPath id="sph"><ellipse cx="317" cy="276" rx="189" ry="194"/></clipPath>
<linearGradient id="og" x1="0" y1="0" x2="1" y2="1"><stop offset="0" stop-color="#f9a023"/><stop offset="1" stop-color="#f68a1e"/></linearGradient>
</defs>
<g transform="translate(36,480) scale(0.138889)" fill="none" stroke-linecap="round">
<ellipse cx="317" cy="276" rx="189" ry="194" fill="url(#og)"/>
<path clip-path="url(#sph)" d="M 395,60 C 470,160 470,360 330,490 L 560,490 L 560,60 Z" fill="#f37c1f" opacity="0.9"/>
<path d="M 440,80 C 500,120 555,220 555,290 C 555,320 540,340 525,348" stroke="#c9cbe0" stroke-width="10"/>
<path d="M 55,350 C 100,410 200,480 300,482" stroke="#c9cbe0" stroke-width="10"/>
<path d="M 248,95 C 220,75 185,75 175,95 C 165,120 200,170 250,215 C 320,280 420,335 490,350 C 515,355 535,345 540,325" stroke="#eeeff5" stroke-width="19"/>
<path d="M 175,112 C 150,100 115,110 105,135 C 95,165 130,220 190,275 C 270,345 380,410 450,428 C 490,438 520,420 520,385 C 520,375 516,366 510,360" stroke="#eeeff5" stroke-width="19"/>
<path d="M 125,185 C 100,180 82,195 85,220 C 90,260 130,320 200,380 C 270,435 350,465 410,465 C 440,465 460,455 470,440" stroke="#eeeff5" stroke-width="19"/>
</g>
</svg>

</body></html>
